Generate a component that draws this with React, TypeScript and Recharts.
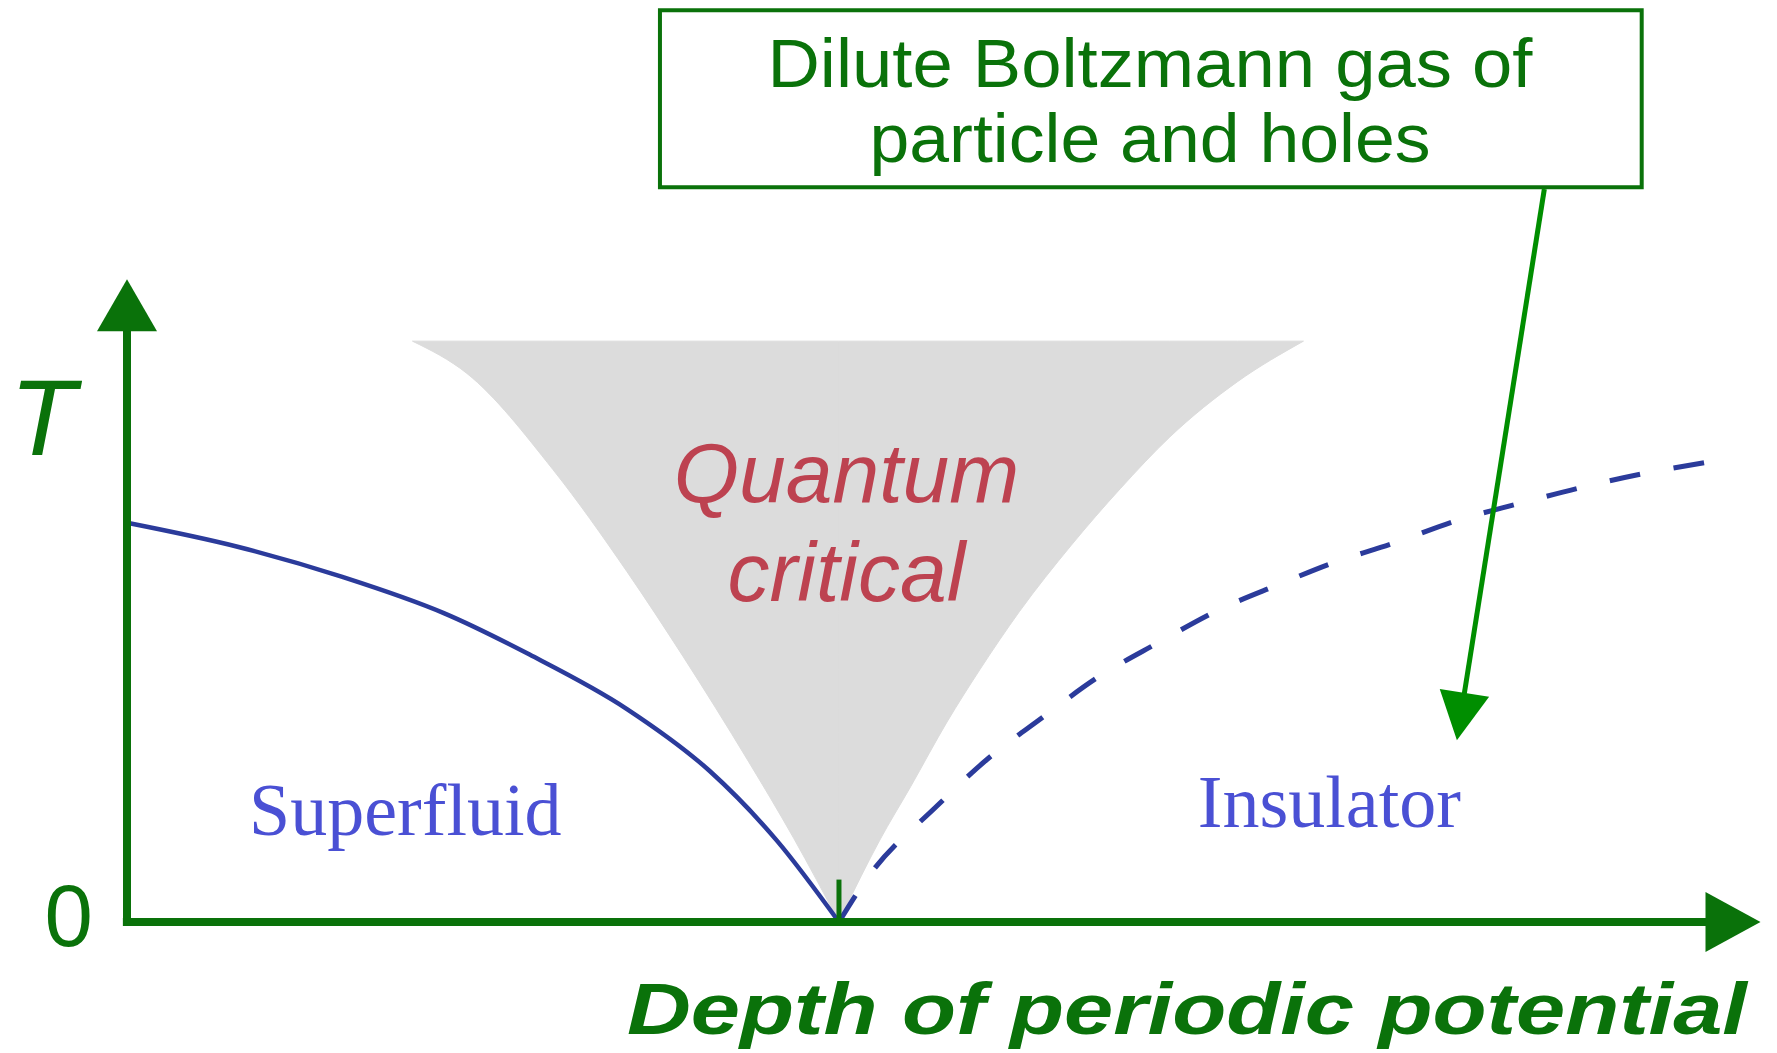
import {
    ComposedChart,
    Area,
    Line,
    XAxis,
    YAxis,
    ReferenceLine,
    ReferenceDot,
    ReferenceArea,
} from "recharts"

// depth of periodic potential (x) vs temperature T, arbitrary units
const superfluidX = [0, 0.67, 1.31, 1.92, 2.44, 3.03, 3.53, 3.94, 4.315]
const superfluidT = [4.33, 4.07, 3.74, 3.35, 2.9, 2.31, 1.64, 0.88, 0]

const crossoverX = [4.315, 4.48, 4.91, 5.21, 5.55, 5.88, 6.25, 6.61, 6.98, 7.3, 7.68, 8.07, 8.44, 8.83, 9.21, 9.59]
const crossoverT = [0, 0.46, 1.26, 1.76, 2.22, 2.65, 3.03, 3.38, 3.66, 3.89, 4.11, 4.36, 4.54, 4.72, 4.87, 4.99]

// edges of the quantum critical fan
const fanLeftX = [1.73, 2.06, 2.58, 3.03, 3.37, 3.76, 4.04, 4.315]
const fanLeftT = [6.3, 5.95, 4.91, 3.8, 2.88, 1.76, 0.91, 0]
const fanRightX = [4.315, 4.45, 4.56, 4.75, 4.97, 5.17, 5.41, 5.72, 6.02, 6.32, 6.73, 7.13]
const fanRightT = [0, 0.5, 0.88, 1.47, 2.17, 2.74, 3.37, 4.08, 4.7, 5.26, 5.86, 6.3]
const fanTop = 6.3

const criticalPoint = 4.315

const superfluid = superfluidX.map((x, i) => ({ x, t: superfluidT[i] }))
const crossover = crossoverX.map((x, i) => ({ x, t: crossoverT[i] }))
const fanLeft = fanLeftX.map((x, i) => ({ x, band: [fanLeftT[i], fanTop] }))
const fanRight = fanRightX.map((x, i) => ({ x, band: [fanRightT[i], fanTop] }))

const GREEN = "#0a720a"
const ARROW_GREEN = "#008e00"
const BLUE = "#2b3b9b"

const arrow =
    (len: number, half: number, color: string, width: number) =>
    (p: any) => {
        const { x1, y1, x2, y2 } = p
        const dx = x2 - x1
        const dy = y2 - y1
        const d = Math.hypot(dx, dy)
        const ux = dx / d
        const uy = dy / d
        const bx = x2 - ux * len
        const by = y2 - uy * len
        const pts = `${x2},${y2} ${bx - uy * half},${by + ux * half} ${bx + uy * half},${by - ux * half}`
        return (
            <g>
                <line
                    x1={x1}
                    y1={y1}
                    x2={bx + ux * 2}
                    y2={by + uy * 2}
                    stroke={color}
                    strokeWidth={width}
                />
                <polygon points={pts} fill={color} />
            </g>
        )
    }

const note =
    (text: string, style: any) =>
    (p: any) =>
        (
            <text x={p.cx} y={p.cy} {...style}>
                {text}
            </text>
        )

const sans = "'Liberation Sans', Arial, sans-serif"
const serif = "'Liberation Serif', 'Times New Roman', serif"

export default function App() {
    return (
        <div
            style={{
                position: "absolute",
                left: 0,
                top: 0,
                width: 1777,
                height: 1053,
                background: "#fff",
            }}
        >
            <ComposedChart
                width={1777}
                height={1053}
                margin={{ top: 0, right: 0, bottom: 131, left: 127 }}
            >
                <XAxis type="number" dataKey="x" domain={[0, 10]} hide />
                <YAxis type="number" domain={[0, 10]} hide />

                <Area
                    data={fanLeft}
                    dataKey="band"
                    type="monotone"
                    fill="#dcdcdc"
                    fillOpacity={1}
                    stroke="#dcdcdc"
                    strokeWidth={1}
                    isAnimationActive={false}
                />
                <Area
                    data={fanRight}
                    dataKey="band"
                    type="monotone"
                    fill="#dcdcdc"
                    fillOpacity={1}
                    stroke="#dcdcdc"
                    strokeWidth={1}
                    isAnimationActive={false}
                />

                <Line
                    data={superfluid}
                    dataKey="t"
                    type="monotone"
                    stroke={BLUE}
                    strokeWidth={4.5}
                    dot={false}
                    isAnimationActive={false}
                />
                <Line
                    data={crossover}
                    dataKey="t"
                    type="monotone"
                    stroke={BLUE}
                    strokeWidth={5}
                    strokeDasharray="31 34"
                    dot={false}
                    isAnimationActive={false}
                />

                {/* axes */}
                <ReferenceLine
                    segment={[{ x: -0.025, y: 0 }, { x: 9.9, y: 0 }]}
                    ifOverflow="visible"
                    shape={arrow(55, 30, GREEN, 8)}
                />
                <ReferenceLine
                    segment={[{ x: 0, y: -0.04 }, { x: 0, y: 6.97 }]}
                    ifOverflow="visible"
                    shape={arrow(52, 30, GREEN, 8)}
                />
                <ReferenceLine
                    segment={[{ x: criticalPoint, y: 0 }, { x: criticalPoint, y: 0.46 }]}
                    ifOverflow="visible"
                    stroke={GREEN}
                    strokeWidth={5}
                />

                {/* annotation */}
                <ReferenceArea
                    x1={3.23}
                    x2={9.18}
                    y1={7.97}
                    y2={9.89}
                    ifOverflow="visible"
                    fill="#fff"
                    fillOpacity={1}
                    stroke={GREEN}
                    strokeWidth={4}
                />
                <ReferenceLine
                    segment={[{ x: 8.59, y: 7.95 }, { x: 8.06, y: 1.97 }]}
                    ifOverflow="visible"
                    shape={arrow(48, 25, ARROW_GREEN, 5)}
                />
                <ReferenceDot
                    x={6.2}
                    y={9.06}
                    ifOverflow="visible"
                    shape={note("Dilute Boltzmann gas of", {
                        fill: GREEN,
                        fontFamily: sans,
                        fontSize: 68,
                        textAnchor: "middle",
                        textLength: 765,
                        lengthAdjust: "spacingAndGlyphs",
                    })}
                />
                <ReferenceDot
                    x={6.2}
                    y={8.24}
                    ifOverflow="visible"
                    shape={note("particle and holes", {
                        fill: GREEN,
                        fontFamily: sans,
                        fontSize: 68,
                        textAnchor: "middle",
                        textLength: 561,
                        lengthAdjust: "spacingAndGlyphs",
                    })}
                />

                {/* region labels */}
                <ReferenceDot
                    x={4.36}
                    y={4.56}
                    ifOverflow="visible"
                    shape={note("Quantum", {
                        fill: "#bd4250",
                        fontFamily: sans,
                        fontStyle: "italic",
                        fontSize: 84,
                        textAnchor: "middle",
                    })}
                />
                <ReferenceDot
                    x={4.36}
                    y={3.48}
                    ifOverflow="visible"
                    shape={note("critical", {
                        fill: "#bd4250",
                        fontFamily: sans,
                        fontStyle: "italic",
                        fontSize: 84,
                        textAnchor: "middle",
                    })}
                />
                <ReferenceDot
                    x={0.74}
                    y={0.94}
                    ifOverflow="visible"
                    shape={note("Superfluid", {
                        fill: "#4a50d4",
                        fontFamily: serif,
                        fontSize: 74,
                    })}
                />
                <ReferenceDot
                    x={6.49}
                    y={1.03}
                    ifOverflow="visible"
                    shape={note("Insulator", {
                        fill: "#4a50d4",
                        fontFamily: serif,
                        fontSize: 74,
                    })}
                />

                {/* axis labels */}
                <ReferenceDot
                    x={-0.71}
                    y={5.07}
                    ifOverflow="visible"
                    shape={note("T", {
                        fill: GREEN,
                        fontFamily: sans,
                        fontStyle: "italic",
                        fontSize: 108,
                    })}
                />
                <ReferenceDot
                    x={-0.5}
                    y={-0.26}
                    ifOverflow="visible"
                    shape={note("0", {
                        fill: GREEN,
                        fontFamily: sans,
                        fontSize: 87,
                    })}
                />
                <ReferenceDot
                    x={3.03}
                    y={-1.21}
                    ifOverflow="visible"
                    shape={note("Depth of periodic potential", {
                        fill: GREEN,
                        fontFamily: sans,
                        fontStyle: "italic",
                        fontWeight: "bold",
                        fontSize: 72,
                        textLength: 1120,
                        lengthAdjust: "spacingAndGlyphs",
                    })}
                />
            </ComposedChart>
        </div>
    )
}
